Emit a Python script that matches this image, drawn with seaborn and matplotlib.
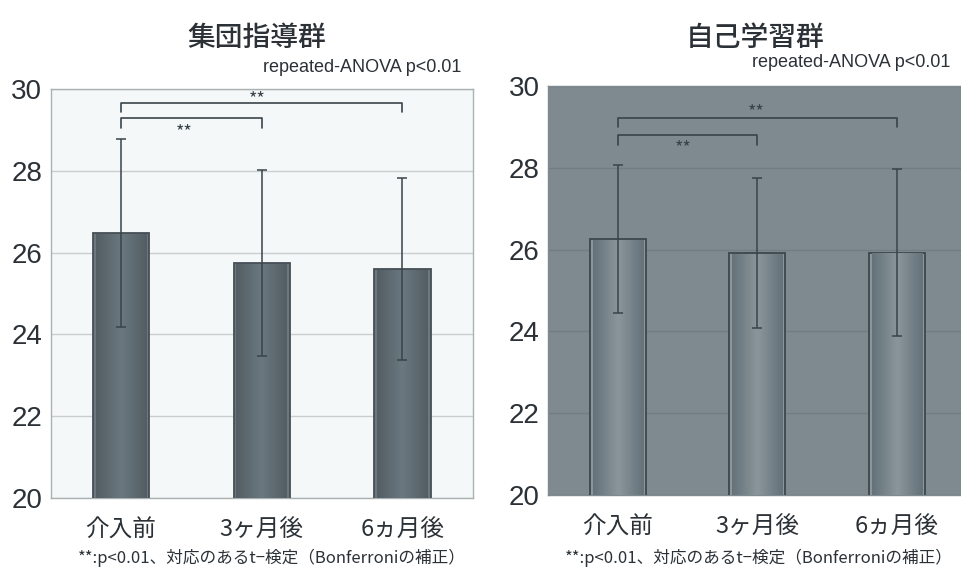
import numpy as np
import pandas as pd
import matplotlib
matplotlib.use("Agg")
import matplotlib.pyplot as plt
from matplotlib.colors import LinearSegmentedColormap
import seaborn as sns

# ---- data ----
periods = ["介入前", "3ヶ月後", "6ヵ月後"]
group_mean = [26.47, 25.74, 25.60]
group_sd = [2.30, 2.27, 2.22]
self_mean = [26.25, 25.92, 25.93]
self_sd = [1.81, 1.83, 2.03]
y_ticks = [20, 22, 24, 26, 28, 30]

titles = ["集団指導群", "自己学習群"]
anova_note = "repeated-ANOVA p<0.01"
footnote = "**:p<0.01、対応のあるt−検定（Bonferroniの補正）"

sns.set_theme(style="white")
plt.rcParams["font.family"] = ["Noto Sans CJK JP", "DejaVu Sans"]

fig = plt.figure(figsize=(9.62, 5.83), dpi=100)
fig.patch.set_facecolor("white")

ax_l = fig.add_axes([0.0527, 0.1458, 0.4387, 0.7015])
ax_r = fig.add_axes([0.5696, 0.1509, 0.4350, 0.7015])

text_dark = "#2b3136"
line_dark = "#39444a"
Y_MIN, Y_MAX = 20, 30

panels = [
    dict(ax=ax_l, mean=group_mean, sd=group_sd, face="#f4f8f8", grid="#c9cfcf",
         edge_col="#525e64", center_col="#6c787f", outline="#454f55", frame="#a9b1b1",
         outer=(29.65, 29.45), inner=(29.28, 29.05),
         star_outer=(0.97, 29.76), star_inner=(0.45, 28.95)),
    dict(ax=ax_r, mean=self_mean, sd=self_sd, face="#7e8a90", grid="#717d83",
         edge_col="#66727a", center_col="#8a969b", outline="#3b474d", frame="#7e8a90",
         outer=(29.21, 29.00), inner=(28.80, 28.57),
         star_outer=(0.99, 29.36), star_inner=(0.47, 28.48)),
]

for p in panels:
    ax = p["ax"]
    df = pd.DataFrame({"period": periods, "score": p["mean"]})
    sns.barplot(data=df, x="period", y="score", ax=ax, width=0.4,
                color=p["center_col"], edgecolor=p["outline"], linewidth=1.3,
                errorbar=None, zorder=3)
    # soft cylinder-like shading inside each bar
    cmap = LinearSegmentedColormap.from_list(
        "bar", [p["edge_col"], p["center_col"], p["edge_col"]])
    grad = np.linspace(0, 1, 64).reshape(1, -1)
    for patch in ax.patches:
        x0, w, h = patch.get_x(), patch.get_width(), patch.get_height()
        inset = 0.02
        im = ax.imshow(grad, cmap=cmap, aspect="auto", zorder=3.5,
                       extent=[x0 + inset, x0 + w - inset, Y_MIN, h - 0.03],
                       origin="lower", interpolation="bilinear")
        im.set_clip_path(patch)
    # standard deviation bars
    ax.errorbar(np.arange(len(periods)), p["mean"], yerr=p["sd"], fmt="none",
                ecolor=line_dark, elinewidth=1.1, capsize=3.5, capthick=1.1, zorder=5)

    ax.set_xlim(-0.5, 2.5)
    ax.set_ylim(Y_MIN, Y_MAX)
    ax.set_yticks(y_ticks)
    ax.set_facecolor(p["face"])
    ax.grid(axis="y", color=p["grid"], linewidth=1.0, zorder=0)
    ax.set_axisbelow(True)
    ax.set_xlabel("")
    ax.set_ylabel("")
    for s in ax.spines.values():
        s.set_visible(True)
        s.set_color(p["frame"])
        s.set_linewidth(1.0)
    ax.tick_params(axis="y", length=0, pad=6, labelsize=20, labelcolor=text_dark)
    ax.tick_params(axis="x", length=0, pad=15, labelsize=17, labelcolor=text_dark)
    for lab in ax.get_yticklabels():
        lab.set_fontfamily(["Liberation Sans", "DejaVu Sans"])

    # significance brackets
    top, foot = p["outer"]
    ax.plot([0, 0, 2, 2], [foot, top, top, foot], color=line_dark, lw=1.2, zorder=6)
    top, foot = p["inner"]
    ax.plot([0, 0, 1, 1], [foot, top, top, foot], color=line_dark, lw=1.2, zorder=6)
    for sx, sy in (p["star_outer"], p["star_inner"]):
        ax.text(sx, sy, "**", ha="center", va="center", fontsize=13,
                color=line_dark, zorder=7)

# titles and notes
for x, t in zip([0.267, 0.785], titles):
    fig.text(x, 0.936, t, ha="center", va="center", fontsize=20,
             fontweight="medium", color=text_dark)
for x, y in zip([0.480, 0.9875], [0.885, 0.892]):
    fig.text(x, y, anova_note, ha="right", va="center", fontsize=13,
             color=text_dark, family=["Liberation Sans", "DejaVu Sans"])
for x in [0.081, 0.587]:
    fig.text(x, 0.043, footnote, ha="left", va="center", fontsize=12,
             color=text_dark)

fig.savefig("out.png", dpi=100)
